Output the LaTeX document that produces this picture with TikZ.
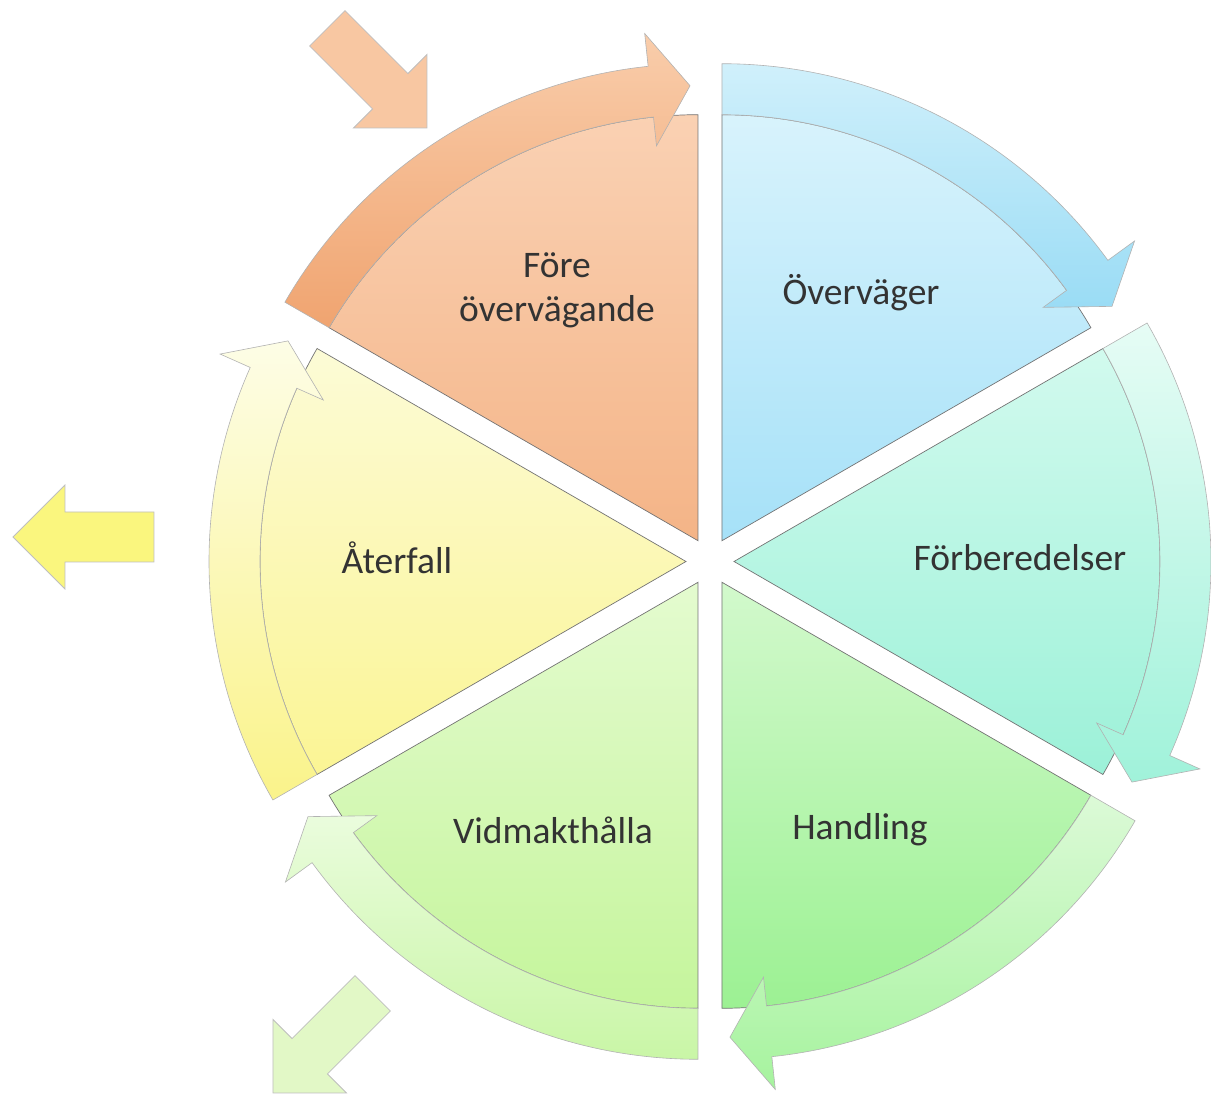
\documentclass[tikz,border=0pt]{standalone}
\usepackage{fontspec}
\setmainfont{Carlito}

\definecolor{oranWT}{HTML}{FAD1B3}
\definecolor{oranWB}{HTML}{F4B487}
\definecolor{oranBT}{HTML}{F9CDAB}
\definecolor{oranBB}{HTML}{F0A470}
\definecolor{blueWT}{HTML}{D8F3FC}
\definecolor{blueWB}{HTML}{A6E1F8}
\definecolor{blueBT}{HTML}{D0F0FB}
\definecolor{blueBB}{HTML}{9ADCF5}
\definecolor{cyanWT}{HTML}{D2FAEE}
\definecolor{cyanWB}{HTML}{9CF1D8}
\definecolor{cyanBT}{HTML}{E6FCF5}
\definecolor{cyanBB}{HTML}{A0F2DA}
\definecolor{handWT}{HTML}{D2F9CC}
\definecolor{handWB}{HTML}{9CF193}
\definecolor{handBT}{HTML}{DCFAD7}
\definecolor{handBB}{HTML}{A6F39E}
\definecolor{vidmWT}{HTML}{E4FBCF}
\definecolor{vidmWB}{HTML}{C5F59C}
\definecolor{vidmBT}{HTML}{EAFCDD}
\definecolor{vidmBB}{HTML}{C9F6A6}
\definecolor{yellWT}{HTML}{FCFBD6}
\definecolor{yellWB}{HTML}{FBF594}
\definecolor{yellBT}{HTML}{FDFDE6}
\definecolor{yellBB}{HTML}{FAF38A}
\definecolor{oranA}{HTML}{F8C7A2}
\definecolor{yellA}{HTML}{FAF67E}
\definecolor{grenA}{HTML}{E2F8C6}
\definecolor{stagetext}{HTML}{333333}

\tikzset{
  wedge/.style={draw=black!55, line width=0.7pt},
  band/.style={draw=black!30, line width=0.6pt},
  stage/.style={font=\fontsize{37.5}{44}\selectfont, text=stagetext, align=center},
  blockarrow/.style={draw=black!25, line width=0.8pt}
}

\begin{document}
\begin{tikzpicture}[x=1pt,y=1pt]
  \useasboundingbox (-710,-540.5) rectangle (501,561.5);

  % the six sectors, each with its curved arrow on the rim
  \foreach \a/\wt/\wb/\bt/\bb in {150/oranWT/oranWB/oranBT/oranBB, 90/blueWT/blueWB/blueBT/blueBB,
      30/cyanWT/cyanWB/cyanBT/cyanBB, -30/handWT/handWB/handBT/handBB,
      -90/vidmWT/vidmWB/vidmBT/vidmBB, -150/yellWT/yellWB/yellBT/yellBB}{
    \pgfmathsetmacro\e{\a-60}
    \pgfmathsetmacro\m{\a-30}
    \begin{scope}[shift={(\m:24)}]
      \path[wedge, top color=\wt, bottom color=\wb] (0,0) -- (\a:426)
        arc[start angle=\a, end angle=\e, radius=426] -- cycle;
      \path[band, top color=\bt, bottom color=\bb] (\a:426) -- (\a:477)
        arc[start angle=\a, end angle=\e+6, radius=477] -- (\e+6:510) -- (\e+1:455)
        -- (\e+6:397) -- (\e+6:426) arc[start angle=\e+6, end angle=\a, radius=426] -- cycle;
    \end{scope}
  }

  % arrows going in and out of the cycle
  \foreach \x/\y/\r/\c in {-283/433.5/-45/oranA, -697/24.5/180/yellA, -437/-531.5/-135/grenA}{
    \begin{scope}[shift={(\x,\y)}, rotate=\r]
      \path[blockarrow, fill=\c] (-141,25) -- (-52,25) -- (-52,52) -- (0,0)
        -- (-52,-52) -- (-52,-25) -- (-141,-25) -- cycle;
    \end{scope}
  }

  \node[stage] (fore) at (-153,271.5) {Före\\övervägande};
  \node[stage] (overvager) at (151,268.5) {Överväger};
  \node[stage] (forbered) at (310,3.5) {Förberedelser};
  \node[stage] (handling) at (150,-268.5) {Handling};
  \node[stage] (vidmakt) at (-157,-268.5) {Vidmakthålla};
  \node[stage] (aterfall) at (-313,3.5) {Återfall};
\end{tikzpicture}
\end{document}
